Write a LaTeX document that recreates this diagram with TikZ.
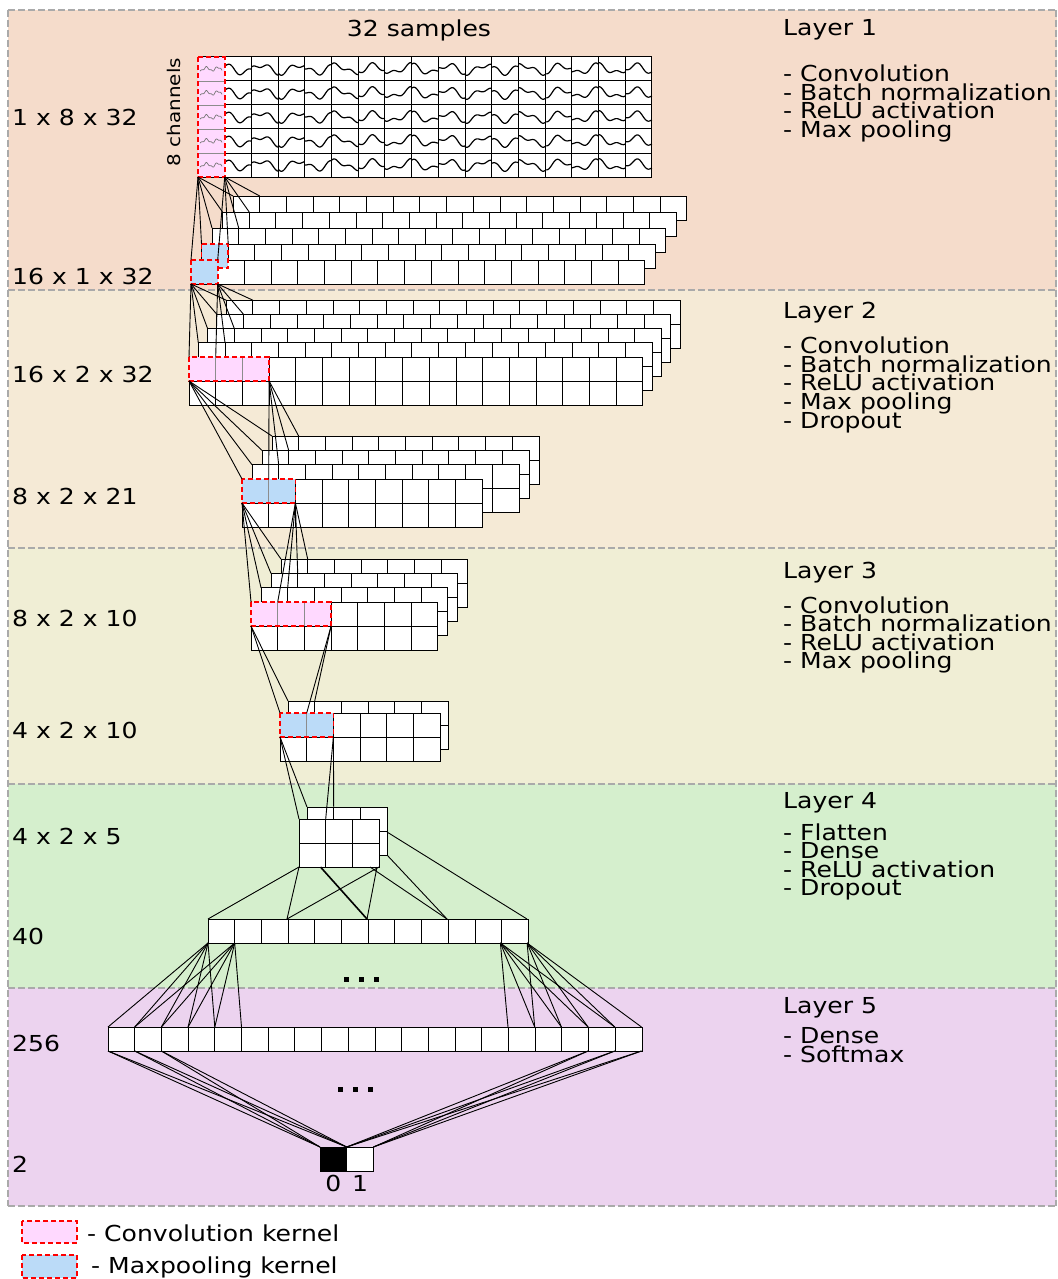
\documentclass[tikz,border=0pt]{standalone}
\usepackage{fontspec}
\setmainfont{DejaVu Sans}[FakeStretch=1.14]
\definecolor{lone}{HTML}{F5DCCB}
\definecolor{ltwo}{HTML}{F5EAD6}
\definecolor{lthree}{HTML}{F0EED5}
\definecolor{lfour}{HTML}{D5EFCD}
\definecolor{lfive}{HTML}{ECD3EF}
\definecolor{pinkk}{HTML}{FFD9FF}
\definecolor{bluek}{HTML}{BBDBF8}
\definecolor{sepgray}{HTML}{AAAAAA}
\def\cw{26.7}
\def\ch{24}
\tikzset{
  cell/.style={fill=white,draw=black,line width=1pt},
  conn/.style={draw=black,line width=0.9pt},
  sepline/.style={draw=sepgray,line width=2pt,dash pattern=on 7pt off 3pt},
  kborder/.style={draw=red,line width=1.8pt,dash pattern=on 5pt off 3pt},
  kdiv/.style={draw=black!45,line width=0.8pt},
  txt/.style={inner sep=0pt,anchor=base west,font=\fontsize{22}{26}\selectfont},
  wave/.style={draw=black,line width=1.2pt},
}
\newcommand\blockgrid[4]{%
  \pgfmathtruncatemacro\bgc{#3-1}\pgfmathtruncatemacro\bgr{#4-1}%
  \foreach \ii in {0,...,\bgc}{\foreach \jj in {0,...,\bgr}{%
    \draw[cell] ({#1+\ii*\cw},{#2+\jj*\ch}) rectangle ++(\cw,\ch);}}}
\newcommand\stackgrid[7]{%
  \pgfmathtruncatemacro\sgn{#5-1}%
  \foreach \kk in {\sgn,...,0}{\blockgrid{#1+\kk*#3}{#2-\kk*#4}{#6}{#7}}}
\newcommand\fanlines[8]{%
  \pgfmathtruncatemacro\fln{#8-1}%
  \foreach \kk in {0,...,\fln}{%
    \draw[conn] (#1,#3) -- ({#4+\kk*#6},{#5-\kk*#7});
    \draw[conn] (#2,#3) -- ({#4+\kk*#6+\cw},{#5-\kk*#7});}}
% kernel: x y cols rows fill
\newcommand\kernelbox[5]{%
  \fill[#5] (#1,#2) rectangle ++({#3*\cw},{#4*\ch});
  \pgfmathtruncatemacro\kbc{#3-1}\pgfmathtruncatemacro\kbr{#4-1}%
  \ifnum\kbc>0 \foreach \ii in {1,...,\kbc}{\draw[kdiv] ({#1+\ii*\cw},#2) -- ++(0,{#4*\ch});}\fi
  \ifnum\kbr>0 \foreach \jj in {1,...,\kbr}{\draw[kdiv] (#1,{#2+\jj*\ch}) -- ++({#3*\cw},0);}\fi
  \draw[kborder] (#1,#2) rectangle ++({#3*\cw},{#4*\ch});}
\begin{document}
\begin{tikzpicture}[x=1pt,y=-1pt]
\useasboundingbox (0,0) rectangle (1057,1279);
% backgrounds
\fill[lone] (8,10) rectangle (1057,290);
\fill[ltwo] (8,290) rectangle (1057,548);
\fill[lthree] (8,548) rectangle (1057,784);
\fill[lfour] (8,784) rectangle (1057,988);
\fill[lfive] (8,988) rectangle (1057,1206);
\foreach \yy in {10,290,548,784,988,1206}{\draw[sepline] (8,\yy) -- (1057,\yy);}
\draw[sepline] (8,10) -- (8,1206);
\draw[sepline] (1056,10) -- (1056,1206);

% ---------- texts on the right
\node[txt] (t1) at (783,36) {Layer 1};
\node[txt] (t1a) at (783,81.5) {- Convolution};
\node[txt] (t1b) at (783,100.2) {- Batch normalization};
\node[txt] (t1c) at (783,118.9) {- ReLU activation};
\node[txt] (t1d) at (783,137.6) {- Max pooling};
\node[txt] (t2) at (783,318) {Layer 2};
\node[txt] (t2a) at (783,353.5) {- Convolution};
\node[txt] (t2b) at (783,372.2) {- Batch normalization};
\node[txt] (t2c) at (783,390.9) {- ReLU activation};
\node[txt] (t2d) at (783,409.6) {- Max pooling};
\node[txt] (t2e) at (783,428.3) {- Dropout};
\node[txt] (t3) at (783,578) {Layer 3};
\node[txt] (t3a) at (783,613) {- Convolution};
\node[txt] (t3b) at (783,631.5) {- Batch normalization};
\node[txt] (t3c) at (783,650) {- ReLU activation};
\node[txt] (t3d) at (783,668.5) {- Max pooling};
\node[txt] (t4) at (783,808) {Layer 4};
\node[txt] (t4a) at (783,840) {- Flatten};
\node[txt] (t4b) at (783,858.5) {- Dense};
\node[txt] (t4c) at (783,877) {- ReLU activation};
\node[txt] (t4d) at (783,895.5) {- Dropout};
\node[txt] (t5) at (783,1013) {Layer 5};
\node[txt] (t5a) at (783,1043.5) {- Dense};
\node[txt] (t5b) at (783,1062.5) {- Softmax};
% ---------- texts on the left
\node[txt] (s1) at (12,125) {1 x 8 x 32};
\node[txt] (s2) at (12,284) {16 x 1 x 32};
\node[txt] (s3) at (12,382) {16 x 2 x 32};
\node[txt] (s4) at (12,504) {8 x 2 x 21};
\node[txt] (s5) at (12,626) {8 x 2 x 10};
\node[txt] (s6) at (12,738) {4 x 2 x 10};
\node[txt] (s7) at (12,844) {4 x 2 x 5};
\node[txt] (s8) at (12,944) {40};
\node[txt] (s9) at (12,1051) {256};
\node[txt] (s10) at (12,1172) {2};
\node[txt,anchor=base] (samples) at (419,37) {32 samples};
\node[inner sep=0pt,rotate=90,font=\fontsize{17.5}{20}\selectfont] (chan) at (174,112) {8 channels};

% ---------- Layer 1 input
\blockgrid{198}{57}{17}{5}
\foreach \c in {1,...,16}{
  \pgfmathsetmacro\pa{(257*\c)}
  \pgfmathsetmacro\pb{(110*\c)}
  \foreach \r in {0,...,4}{
    \draw[wave] plot[domain=0:26.7,samples=30,variable=\t]
      ({198+\c*26.7+\t},{69+\r*24+4*sin(9.6*\t+\pa+20)+2.4*sin(21*\t+\pb+40)});
  }
}
\kernelbox{198}{57}{1}{5}{pinkk}
\foreach \r in {0,...,4}{
  \draw[draw=black!55,line width=0.7pt] plot[domain=2:24,samples=40,variable=\t]
    ({198+\t},{69+\r*24+1.8*sin(32*\t)+0.8*sin(75*\t)});
}
% ---------- Layer 1 output 16x1x32
\stackgrid{191}{260}{10.5}{16}{5}{17}{1}
\kernelbox{201.5}{244}{1}{1}{bluek}
\kernelbox{191}{260}{1}{1}{bluek}
\fanlines{198}{224.7}{177}{191}{260}{10.5}{16}{5}

% ---------- Layer 2 input 16x2x32
\stackgrid{189}{357}{9.3}{14.2}{5}{17}{2}
\kernelbox{189}{357}{3}{1}{pinkk}
\fanlines{191}{217.7}{284}{189}{357}{9.3}{14.2}{5}

% ---------- Layer 2 output 8x2x21
\blockgrid{272}{436}{10}{2}
\blockgrid{262}{450.3}{10}{2}
\blockgrid{252}{464.6}{10}{2}
\blockgrid{242}{479}{9}{2}
\kernelbox{242}{479}{2}{1}{bluek}
\fanlines{189}{269.1}{381}{242}{479}{10}{14.3}{4}

% ---------- Layer 3 input 8x2x10
\stackgrid{251}{602}{10}{14.3}{4}{7}{2}
\kernelbox{251}{602}{3}{1}{pinkk}
\fanlines{242}{295.4}{503}{251}{602}{10}{14.3}{4}

% ---------- Layer 3 output 4x2x10
\stackgrid{280}{713}{8}{12}{2}{6}{2}
\kernelbox{280}{713}{2}{1}{bluek}
\fanlines{251}{331.1}{626}{280}{713}{8}{12}{2}

% ---------- Layer 4 4x2x5
\stackgrid{299}{819}{8}{12}{2}{3}{2}
\fanlines{280}{333.4}{737}{299}{819}{8}{12}{2}

% ---------- dense 40
\blockgrid{208}{919}{12}{1}
\draw[conn] (299,867) -- (208,919);
\draw[conn] (299,867) -- (287,919);
\draw[conn,line width=1.6pt] (320.5,867) -- (367,919);
\draw[conn] (379,867) -- (287,919);
\draw[conn] (377,867) -- (367,919);
\draw[conn] (370,867) -- (447,919);
\draw[conn] (387,855) -- (447,919);
\draw[conn] (387,832) -- (527,919);

% dots
\foreach \dx in {343.5,358.5,373.5}{\fill (\dx,976.5) rectangle ++(5,5);}
\foreach \dx in {337.5,352.5,367.5}{\fill (\dx,1086.5) rectangle ++(5,5);}

% ---------- dense 256
\blockgrid{108}{1027}{20}{1}
\foreach \xx in {108,134.7,161.4,188.1,214.8}{\draw[conn] (208,943) -- (\xx,1027);}
\foreach \xx in {134.7,161.4,188.1,214.8,241.5}{\draw[conn] (234.7,943) -- (\xx,1027);}
\foreach \xx in {508,534.7,561.4,588.1,614.8}{\draw[conn] (500.4,943) -- (\xx,1027);}
\foreach \xx in {534.7,561.4,588.1,614.8,641.5}{\draw[conn] (527.1,943) -- (\xx,1027);}

% ---------- output
\draw[cell,fill=black] (320,1147) rectangle ++(\cw,\ch);
\draw[cell] (346.7,1147) rectangle ++(\cw,\ch);
\foreach \xx in {108,134.7,161.4}{
  \draw[conn] (\xx,1051) -- (320,1147);
  \draw[conn] (\xx,1051) -- (346.7,1147);}
\foreach \xx in {588.1,614.8,641.5}{
  \draw[conn] (\xx,1051) -- (346.7,1147);
  \draw[conn] (\xx,1051) -- (373.4,1147);}
\node[txt,anchor=base] (o0) at (333.3,1191) {0};
\node[txt,anchor=base] (o1) at (360,1191) {1};

% ---------- legend
\fill[pinkk] (22,1221) rectangle (77,1243);
\draw[kborder,line width=1.2pt] (22,1221) rectangle (77,1243);
\fill[bluek] (22,1255) rectangle (77,1278);
\draw[kborder,line width=1.2pt] (22,1255) rectangle (77,1278);
\node[txt] (lg1) at (87,1241) {- Convolution kernel};
\node[txt] (lg2) at (91,1273) {- Maxpooling kernel};
\end{tikzpicture}
\end{document}
